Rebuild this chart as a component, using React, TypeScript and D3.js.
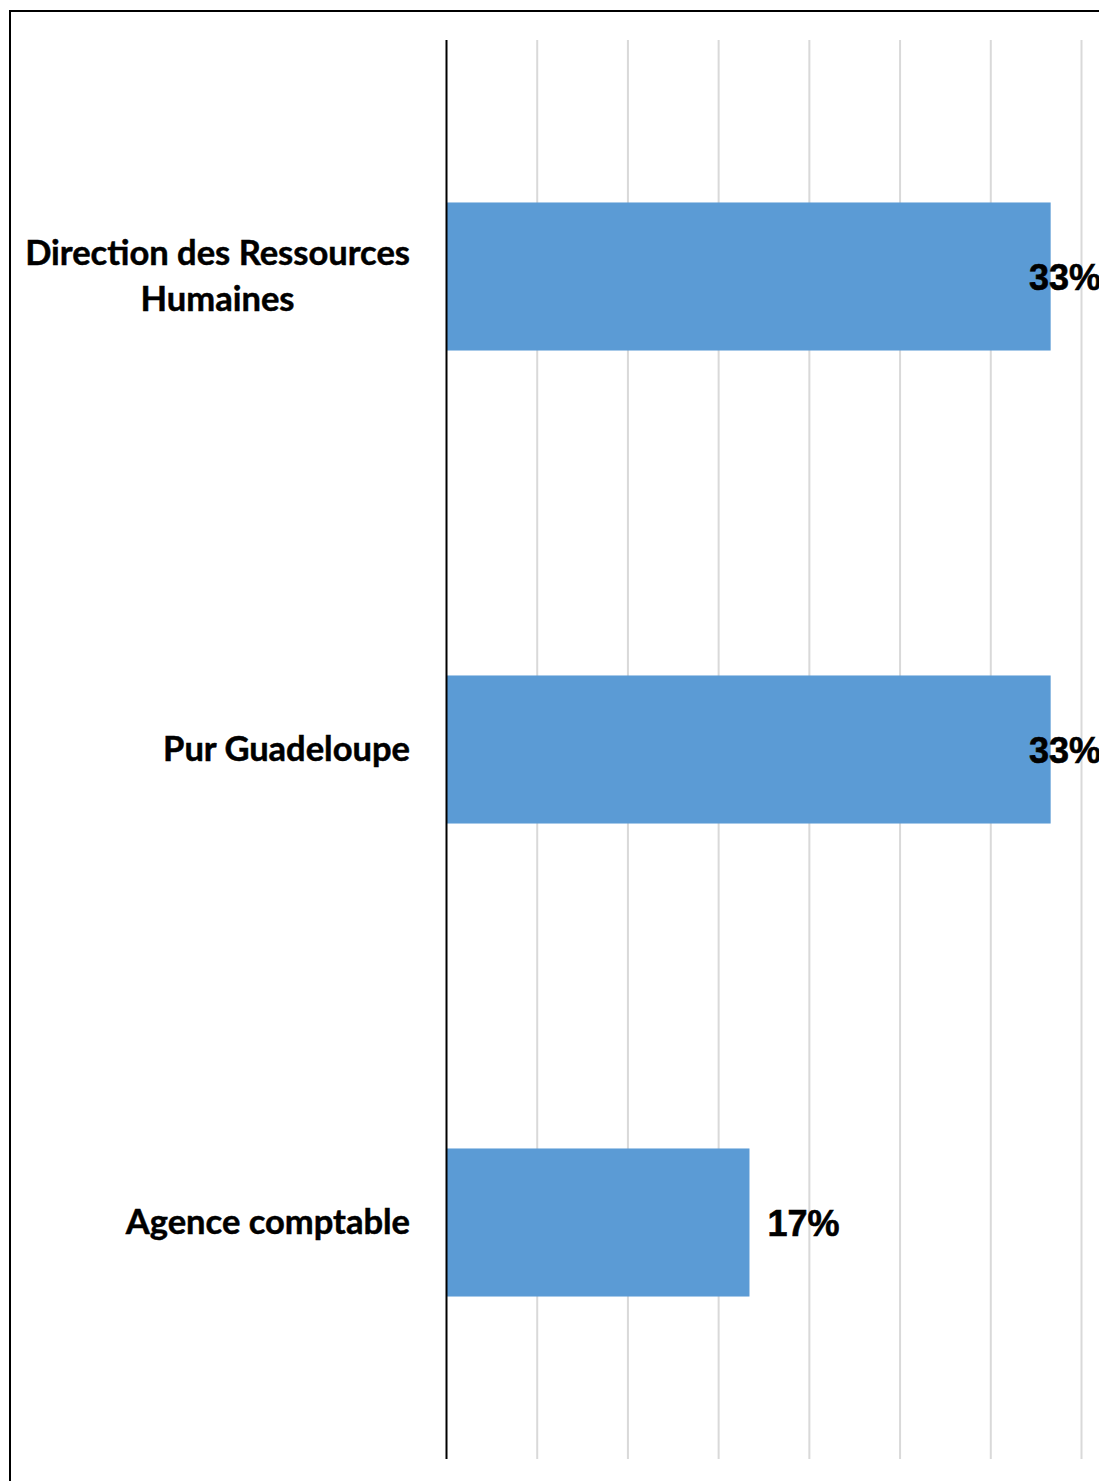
import React, { useEffect, useRef } from "react";
import * as d3 from "d3";

const categories: string[][] = [
  ["Direction des Ressources", "Humaines"],
  ["Pur Guadeloupe"],
  ["Agence comptable"],
];
const values: number[] = [0.333, 0.333, 0.167];
const labels: string[] = ["33%", "33%", "17%"];
const gridTicks: number[] = [0.05, 0.1, 0.15, 0.2, 0.25, 0.3, 0.35, 0.4];

const W = 1099;
const H = 1481;

export default function App() {
  const ref = useRef<SVGSVGElement | null>(null);

  useEffect(() => {
    const svg = d3.select(ref.current);
    svg.selectAll("*").remove();

    const plotLeft = 446.5;
    const plotTop = 40;
    const plotBottom = 1459;
    const chartRight = 1101;

    const x = d3.scaleLinear().domain([0, 0.35]).range([plotLeft, 1081.5]);
    const y = d3
      .scaleBand<number>()
      .domain(d3.range(categories.length))
      .range([plotTop, plotBottom])
      .paddingInner(0.687)
      .paddingOuter(0.3435);

    // border
    svg
      .append("rect")
      .attr("x", 10)
      .attr("y", 11)
      .attr("width", 1300)
      .attr("height", 1700)
      .attr("fill", "white")
      .attr("stroke", "#000")
      .attr("stroke-width", 2);

    // gridlines
    svg
      .append("g")
      .selectAll("line")
      .data(gridTicks)
      .join("line")
      .attr("x1", (d) => x(d))
      .attr("x2", (d) => x(d))
      .attr("y1", plotTop)
      .attr("y2", plotBottom)
      .attr("stroke", "#d9d9d9")
      .attr("stroke-width", 2);

    // bars
    svg
      .append("g")
      .selectAll("rect")
      .data(values)
      .join("rect")
      .attr("x", x(0))
      .attr("y", (_d, i) => y(i)!)
      .attr("width", (d) => x(d) - x(0))
      .attr("height", y.bandwidth())
      .attr("fill", "#5B9BD5");

    // axis line
    svg
      .append("line")
      .attr("x1", plotLeft)
      .attr("x2", plotLeft)
      .attr("y1", plotTop)
      .attr("y2", plotBottom)
      .attr("stroke", "#000")
      .attr("stroke-width", 2);

    // data labels
    const lg = svg.append("g");
    labels.forEach((lab, i) => {
      const t = lg
        .append("text")
        .attr("y", y(i)! + y.bandwidth() / 2 + 13)
        .attr("font-family", "'Liberation Sans', Arial, sans-serif")
        .attr("font-weight", "bold")
        .attr("font-size", 36)
        .attr("fill", "#000")
        .attr("stroke", "#000")
        .attr("stroke-width", 0.6)
        .text(lab);
      const w = (t.node() as SVGTextElement).getComputedTextLength();
      const lx = Math.min(x(values[i]) + 18, chartRight - w);
      t.attr("x", lx);
    });

    // category labels
    const cg = svg.append("g");
    const rightX = 410;
    const lineH = 46;
    categories.forEach((lines, i) => {
      const cy = y(i)! + y.bandwidth() / 2;
      const texts = lines.map((ln, j) =>
        cg
          .append("text")
          .attr("y", cy - ((lines.length - 1) * lineH) / 2 + j * lineH + 11)
          .attr("font-family", "Lato, 'Open Sans', sans-serif")
          .attr("font-weight", "bold")
          .attr("font-size", 34.5)
          .attr("fill", "#000")
          .attr("stroke", "#000")
          .attr("stroke-width", 0.5)
          .attr("text-anchor", "middle")
          .text(ln)
      );
      const widths = texts.map((t) => (t.node() as SVGTextElement).getComputedTextLength());
      const bw = Math.max(...widths);
      texts.forEach((t) => t.attr("x", rightX - bw / 2));
    });
  }, []);

  return (
    <svg
      ref={ref}
      width={W}
      height={H}
      style={{ position: "absolute", left: 0, top: 0, display: "block" }}
    />
  );
}
